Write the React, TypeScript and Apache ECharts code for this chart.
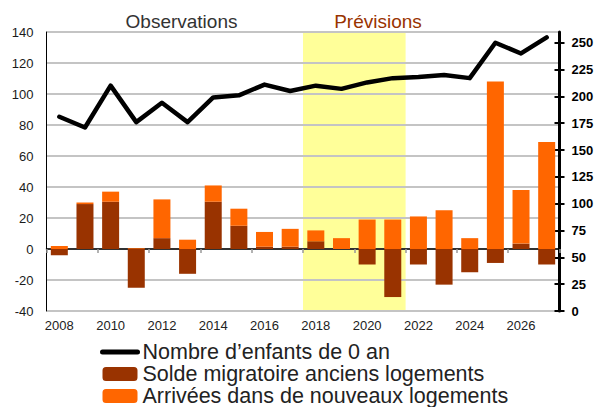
import React, { useEffect, useRef } from "react";
import * as echarts from "echarts";

const categories = ["2008","2009","2010","2011","2012","2013","2014","2015","2016","2017","2018","2019","2020","2021","2022","2023","2024","2025","2026","2027"];
const enfants = [181, 171, 210, 176, 194, 176, 199, 201, 211, 205, 210, 207, 213, 217, 218, 220, 217, 250, 240, 255];
const solde = [-4, 29, 30.5, -25, 7, -16, 30.5, 15, 1.5, 1.5, 5, 0, -10, -31, -10, -23, -15, -9, 3.5, -10];
const arrivees = [2, 1, 6.5, 0.5, 25, 6, 10.5, 11, 9.5, 11.5, 7, 7, 19, 19, 21, 25, 7, 108, 34.5, 69];
const leftMin = -40, leftMax = 140, leftInterval = 20;
const rightMin = 0, rightMax = 260, rightInterval = 25;
const rightTicks = [0, 25, 50, 75, 100, 125, 150, 175, 200, 225, 250];
const forecastStart = "2018", forecastEnd = "2021";
const names = ["Nombre d\u2019enfants de 0 an", "Solde migratoire anciens logements", "Arriv\u00e9es dans de nouveaux logements"];

const FONT = "'Liberation Sans', Arial, sans-serif";

export default function App() {
  const ref = useRef<HTMLDivElement>(null);
  useEffect(() => {
    if (!ref.current) return;
    const chart = echarts.init(ref.current, undefined, { renderer: "svg" });
    const s = categories.indexOf(forecastStart);
    const e = categories.indexOf(forecastEnd);
    chart.setOption({
      animation: false,
      textStyle: { fontFamily: FONT },
      grid: { left: 46.5, right: 37.5, top: 32, bottom: 96 },
      graphic: [
        { type: "text", x: 181.5, y: 21, style: { text: "Observations", font: `19px ${FONT}`, fill: "#333333", textAlign: "center", textVerticalAlign: "middle" } },
        { type: "text", x: 378, y: 21, style: { text: "Pr\u00e9visions", font: `19px ${FONT}`, fill: "#993300", textAlign: "center", textVerticalAlign: "middle" } },
      ],
      legend: {
        orient: "vertical",
        left: 100,
        top: 341,
        height: 90,
        itemWidth: 35,
        itemHeight: 14,
        itemGap: 0,
        padding: 0,
        textStyle: { fontSize: 21.5, color: "#222222", lineHeight: 20.5, fontFamily: FONT },
        data: [
          {
            name: names[0],
            itemStyle: { color: "rgba(0,0,0,0)", borderColor: "rgba(0,0,0,0)", borderWidth: 0 },
            lineStyle: { color: "#000000", width: 5, cap: "round" },
          },
          { name: names[1] },
          { name: names[2] },
        ],
      },
      xAxis: [
        {
          type: "category",
          data: categories,
          position: "bottom",
          axisLine: { show: false, onZero: false },
          axisTick: { show: false },
          axisLabel: { interval: 1, fontSize: 13, color: "#222222", margin: 8, fontFamily: FONT },
          splitLine: { show: false },
        },
        {
          type: "category",
          data: categories,
          position: "top",
          axisLine: { show: true, onZero: true, onZeroAxisIndex: 0, lineStyle: { color: "#000000", width: 1.5 } },
          axisTick: { show: true, inside: true, length: 4, lineStyle: { color: "#999999", width: 1.5 } },
          axisLabel: { show: false },
          splitLine: { show: false },
        },
      ],
      yAxis: [
        {
          type: "value",
          min: leftMin,
          max: leftMax,
          interval: leftInterval,
          position: "left",
          axisLine: { show: true, onZero: false, lineStyle: { color: "#000000", width: 1 } },
          axisTick: { show: false },
          axisLabel: { fontSize: 13, color: "#1a1a1a", margin: 13, fontFamily: FONT },
          splitLine: { show: true, lineStyle: { color: "#c4c4c4", width: 2 } },
        },
        {
          type: "value",
          min: rightMin,
          max: rightMax,
          interval: rightInterval,
          position: "right",
          axisLine: { show: true, onZero: false, lineStyle: { color: "#000000", width: 3 } },
          axisTick: { show: true, length: 5, customValues: rightTicks, lineStyle: { color: "#000000", width: 2 } },
          axisLabel: {
            fontSize: 13, fontWeight: "bold", color: "#000000", margin: 12, fontFamily: FONT,
            formatter: (v: number) => (v % rightInterval === 0 ? String(v) : ""),
          },
          splitLine: { show: false },
        },
        {
          type: "value",
          min: rightMin,
          max: rightMax,
          interval: rightInterval,
          position: "right",
          axisLine: { show: false, onZero: false },
          axisTick: { show: true, inside: true, length: 5, customValues: rightTicks, lineStyle: { color: "#000000", width: 2 } },
          axisLabel: { show: false },
          splitLine: { show: false },
        },
      ],
      series: [
        {
          type: "custom",
          name: "band",
          xAxisIndex: 0,
          yAxisIndex: 0,
          z: -1,
          silent: true,
          data: [[s, e]],
          renderItem: (_p: any, api: any) => {
            const a = api.value(0);
            const b = api.value(1);
            const w = api.size([1, 0])[0];
            const p0 = api.coord([a, leftMax]);
            const p1 = api.coord([b, leftMin]);
            return {
              type: "rect",
              shape: { x: p0[0] - w / 2, y: p0[1], width: p1[0] - p0[0] + w, height: p1[1] - p0[1] },
              style: { fill: "#ffff99" },
            };
          },
        },
        {
          type: "bar",
          name: names[1],
          stack: "s",
          xAxisIndex: 0,
          yAxisIndex: 0,
          barWidth: 17,
          itemStyle: { color: "#993300" },
          data: solde,
        },
        {
          type: "bar",
          name: names[2],
          stack: "s",
          xAxisIndex: 0,
          yAxisIndex: 0,
          barWidth: 17,
          itemStyle: { color: "#ff6600" },
          data: arrivees,
        },
        {
          type: "line",
          name: names[0],
          xAxisIndex: 0,
          yAxisIndex: 1,
          symbol: "none",
          z: 5,
          lineStyle: { color: "#000000", width: 4.5, join: "round", cap: "round" },
          itemStyle: { color: "#000000" },
          data: enfants,
        },
      ],
    });
    return () => chart.dispose();
  }, []);
  return <div ref={ref} style={{ position: "absolute", left: 0, top: 0, width: 597, height: 407 }} />;
}
